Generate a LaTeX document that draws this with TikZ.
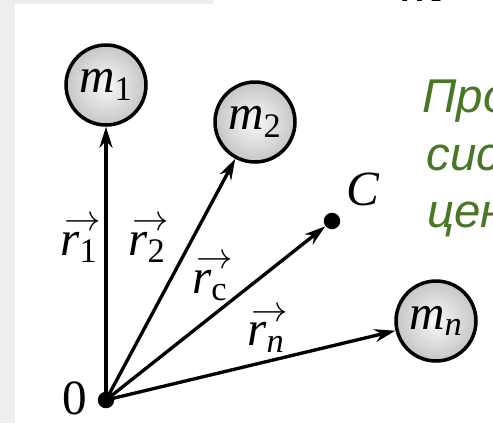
\documentclass[tikz,border=0pt]{standalone}
\usepackage{amsmath}
\usepackage{fontspec}
\setmainfont{Liberation Serif}
\newfontfamily\slidefont{Liberation Sans}
\usetikzlibrary{arrows.meta,positioning}
\definecolor{slidegray}{RGB}{238,238,238}
\definecolor{slidegreen}{RGB}{74,118,38}
\newcommand{\mlbl}[1]{$\text{\itshape m}_{\text{#1}}$}
\newcommand{\rlbl}[1]{\makebox[0pt][l]{\raisebox{0.5em}{\kern0.08em$\scriptstyle\rightarrow$}}$\text{\itshape r}_{\text{#1}}$}

\begin{document}
\begin{tikzpicture}[x=0.02cm, y=-0.02cm,
    mass/.style={circle, draw, line width=2pt, inner color=gray!5, outer color=gray!45, minimum size=1.6cm, inner sep=0pt, font=\fontsize{28}{32}\selectfont},
    point/.style={circle, fill=black, minimum size=0.33cm, inner sep=0pt},
    rvec/.style={-{Stealth[length=0.42cm,width=0.26cm]}, line width=1.9pt},
    lbl/.style={font=\fontsize{28}{32}\selectfont, inner sep=0pt},
    slide/.style={font=\slidefont\itshape\fontsize{27}{32}\selectfont, text=slidegreen, anchor=base west, inner sep=0pt}
]
    % slide background
    \useasboundingbox (0,0) rectangle (493,423);
    \fill[slidegray] (0,0) rectangle (493,423);
    \fill[white] (15,423) -- (15,4) -- (213,4) -- (213,0) -- (493,0) -- (493,423) -- cycle;
    \clip (0,0) rectangle (493,423);

    \node[point] (O) at (106,400) {};
    \node[point] (C) at (332,221) {};
    \node[mass] (m1) at (106,85) {\mlbl{1}};
    \node[mass] (m2) at (255,122) {\mlbl{2}};
    \node[mass] (mn) at (436,321) {\mlbl{\itshape n}};

    \node[lbl] (lO) at (75,398) {0};
    \node[lbl] (lC) at (363,189) {\itshape C};

    % radius vectors
    \draw[rvec] (O.center) -- (m1);
    \draw[rvec] (O.center) -- (m2);
    \draw[rvec] (O.center) -- (C);
    \draw[rvec] (O.center) -- (mn);

    \node[lbl] (r1) at (79,240) {\rlbl{1}};
    \node[lbl] (r2) at (147,240) {\rlbl{2}};
    \node[lbl] (rc) at (210,278) {\rlbl{c}};
    \node[lbl] (rn) at (266,330) {\rlbl{\itshape n}};

    % cut-off slide text
    \node[slide] (t1) at (422,112) {Про};
    \node[slide] (t2) at (426,170) {сис};
    \node[slide] (t3) at (427,227) {цен};
    \node[anchor=base west, inner sep=0pt, font=\fontsize{34}{40}\selectfont\itshape] (mtop) at (400,1.5) {m};
\end{tikzpicture}
\end{document}
